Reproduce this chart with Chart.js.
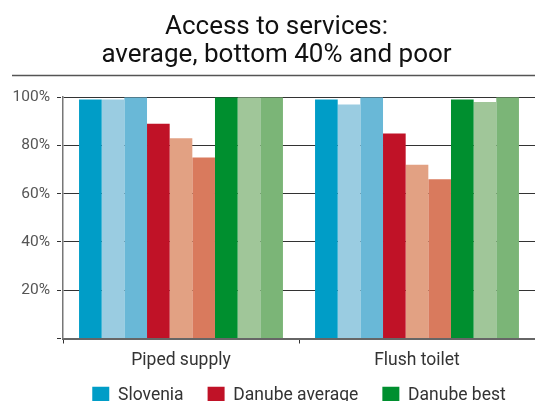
<!DOCTYPE html>
<html>
<head>
<meta charset="utf-8">
<script src="https://cdn.jsdelivr.net/npm/chart.js@4"></script>
<style>
  html, body { margin: 0; padding: 0; overflow: hidden; background: #fff; }
  #wrap { width: 535px; height: 414px; position: relative; }
</style>
</head>
<body>
<div id="wrap"><canvas id="chart"></canvas></div>
<script>
// categories and series values (percent of population with access)
const categories = ["Piped supply", "Flush toilet"];
const sloveniaAvg = [99, 99];
const sloveniaB40 = [99, 97];
const sloveniaPoor = [100, 100];
const danubeAvg = [89, 85];
const danubeB40 = [83, 72];
const danubePoor = [75, 66];
const bestAvg = [100, 99];
const bestB40 = [100, 98];
const bestPoor = [100, 100];
const yTicks = [0, 20, 40, 60, 80, 100];

window.onload = function() {
  const font = "Roboto";

  // rule under the title
  const titleRule = {
    id: "titleRule",
    afterDraw(chart) {
      const ctx = chart.ctx;
      ctx.save();
      ctx.strokeStyle = "#555";
      ctx.lineWidth = 1.5;
      ctx.beginPath();
      ctx.moveTo(12, 75.5);
      ctx.lineTo(chart.width, 75.5);
      ctx.stroke();
      ctx.restore();
    }
  };

  // tick labels are clipped to their scale box; give them room to spill over
  const labelRoom = {
    id: "labelRoom",
    afterLayout(chart) {
      chart.scales.x.bottom = chart.height;
      chart.scales.y.left = 0;
    }
  };

  function bars(label, data, color) {
    return {
      label: label,
      data: data,
      backgroundColor: color,
      borderWidth: 0,
      categoryPercentage: 0.864,
      barPercentage: 1
    };
  }

  new Chart(document.getElementById("chart").getContext("2d"), {
    type: "bar",
    data: {
      labels: categories,
      datasets: [
        bars("Slovenia", sloveniaAvg, "#009dc7"),
        bars("Slovenia, bottom 40%", sloveniaB40, "#9acce1"),
        bars("Slovenia, poor", sloveniaPoor, "#69b8d7"),
        bars("Danube average", danubeAvg, "#c01227"),
        bars("Danube average, bottom 40%", danubeB40, "#e2a183"),
        bars("Danube average, poor", danubePoor, "#d97a5d"),
        bars("Danube best", bestAvg, "#008f2f"),
        bars("Danube best, bottom 40%", bestB40, "#a0c699"),
        bars("Danube best, poor", bestPoor, "#7bb577")
      ]
    },
    options: {
      responsive: true,
      maintainAspectRatio: false,
      animation: false,
      layout: { padding: { left: 18, right: 0, top: 0, bottom: 0 } },
      plugins: {
        title: {
          display: true,
          text: ["Access to services:", "average, bottom 40% and poor"],
          color: "#111",
          font: { family: font, size: 26, weight: "normal", lineHeight: 1.1 },
          padding: { top: 13, bottom: 27 }
        },
        legend: {
          position: "bottom",
          fullSize: false,
          labels: {
            filter: (item) => item.datasetIndex % 3 === 0,
            boxWidth: 17,
            boxHeight: 17,
            padding: 24,
            color: "#333",
            font: { family: font, size: 17.5 }
          }
        },
        tooltip: { enabled: false }
      },
      scales: {
        x: {
          grid: {
            display: true,
            drawOnChartArea: false,
            tickLength: 5,
            color: "#333"
          },
          border: { color: "#666", width: 2 },
          ticks: {
            color: "#333",
            padding: 7,
            font: { family: font, size: 17.5 }
          },
          afterFit: (scale) => { scale.height = 24; }
        },
        y: {
          min: 0,
          max: 100,
          afterBuildTicks: (scale) => {
            scale.ticks = yTicks.map((v) => ({ value: v }));
          },
          afterFit: (scale) => { scale.width = 45; },
          grid: {
            color: "#333",
            lineWidth: 1,
            tickLength: 6,
            borderDash: [4, 3],
            tickBorderDash: [4, 3]
          },
          border: { color: "#777", width: 1.5 },
          ticks: {
            color: "#555",
            padding: 7,
            font: { family: font, size: 15.5 },
            callback: (v) => (v === 0 ? "" : v + "%")
          }
        }
      }
    },
    plugins: [titleRule, labelRoom]
  });
};
</script>
</body>
</html>
